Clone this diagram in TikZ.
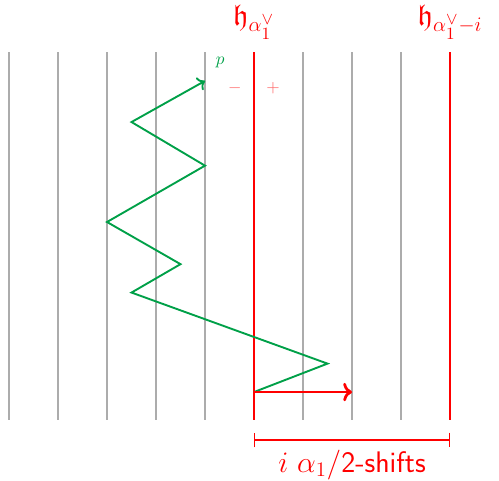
\documentclass[tikz,border=0pt]{standalone}
\usepackage{amsmath,amssymb}
\usetikzlibrary{arrows,arrows.meta,calc,positioning}
\definecolor{walkgreen}{RGB}{0,160,72}

\begin{document}
\begin{tikzpicture}[
wall/.style={gray!65, line width=0.7pt},
redwall/.style={red, line width=1.6pt},
walk/.style={walkgreen, line width=1.1pt},
redlabel/.style={red, font=\LARGE},
sidelabel/.style={red!60, font=\normalsize},]
\useasboundingbox (-0.184,-1.245) rectangle (10,8.571);
\foreach \k in {0,...,9}
    \draw[wall] (\k,0) -- (\k,7.51);
\draw[redwall] (5,0) -- (5,7.51);
\draw[redwall] (9,0) -- (9,7.51);

\node[redlabel] (hroot) at (5,8.12) {$\mathfrak{h}_{\alpha_1^\vee}$};
\node[redlabel] (hshift) at (9,8.12) {$\mathfrak{h}_{\alpha_1^\vee-i}$};
\node[sidelabel] (minus) at (4.61,6.78) {$-$};
\node[sidelabel] (plus) at (5.39,6.78) {$+$};

% the walk
\coordinate (p0) at (5,0.57);
\coordinate (p1) at (6.5,1.15);
\coordinate (p2) at (2.5,2.6);
\coordinate (p3) at (3.5,3.18);
\coordinate (p4) at (2,4.04);
\coordinate (p5) at (4,5.19);
\coordinate (p6) at (2.5,6.08);
\coordinate (p7) at (4,6.92);
\draw[walk,->] (p0) -- (p1) -- (p2) -- (p3) -- (p4) -- (p5) -- (p6) -- (p7);
\node[walkgreen, font=\normalsize] (plabel) at (4.31,7.29) {$p$};

\coordinate (shiftend) at (7,0.57);
\draw[redwall,->] (p0) -- (shiftend);

% i shifts
\coordinate (bl) at (5,-0.41);
\coordinate (br) at (9,-0.41);
\draw[red, line width=0.7pt, {Bar[width=8.5pt]}-{Bar[width=8.5pt]}] (bl) -- (br);
\node[redlabel] (shifts) at (7,-0.92) {$i\ \alpha_1/$\textsf{2-shifts}};
\end{tikzpicture}
\end{document}
